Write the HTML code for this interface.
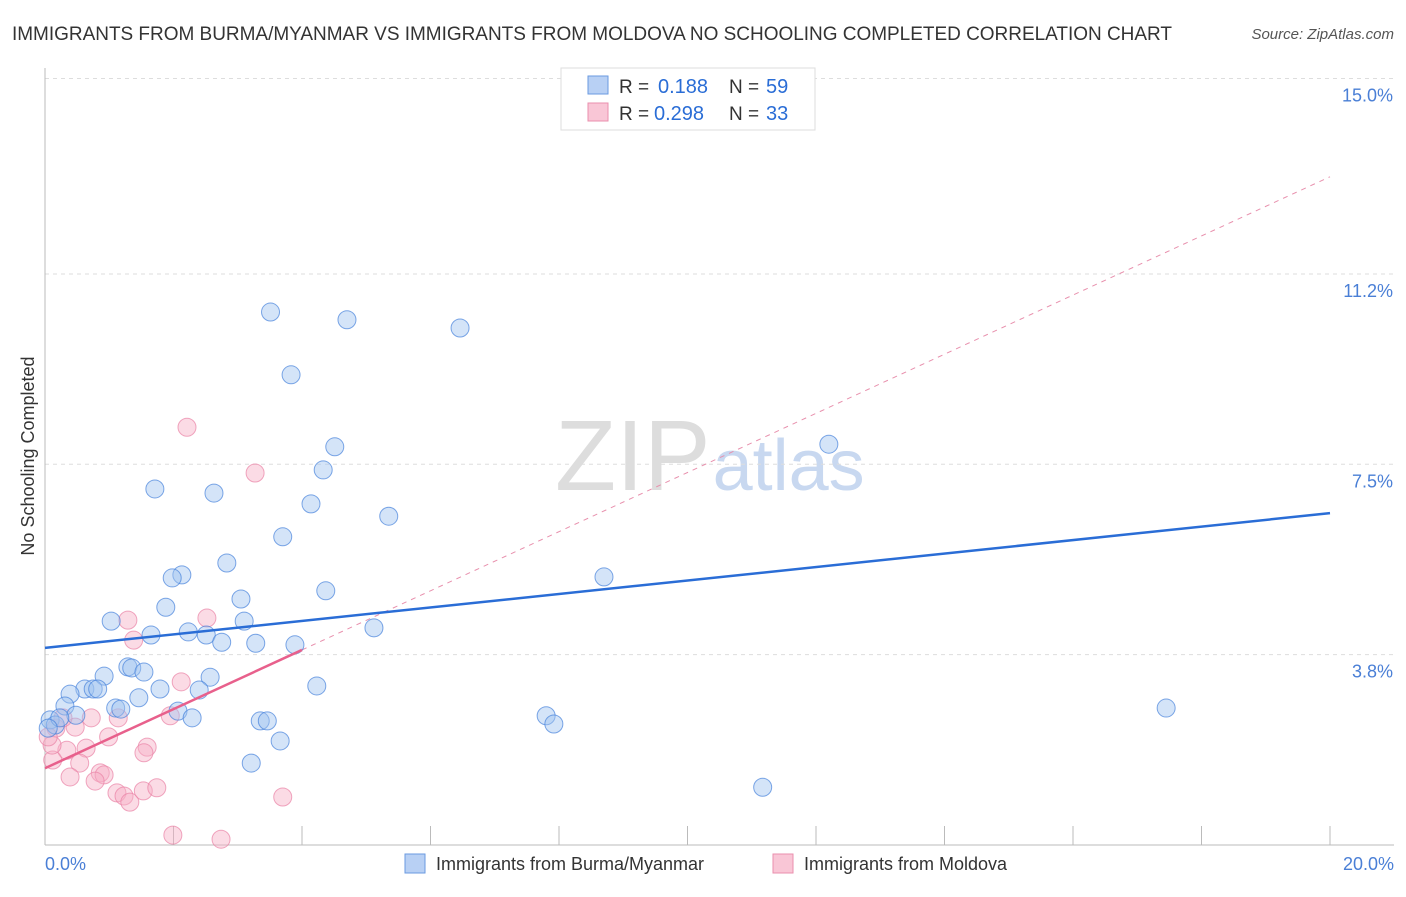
<!DOCTYPE html>
<html><head><meta charset="utf-8"><style>
body{margin:0;background:#fff;font-family:"Liberation Sans",sans-serif;}
svg text{font-family:"Liberation Sans",sans-serif;}
</style></head><body>
<svg width="1406" height="892" xmlns="http://www.w3.org/2000/svg">
<text x="12" y="40" font-size="19" fill="#333" textLength="1160">IMMIGRANTS FROM BURMA/MYANMAR VS IMMIGRANTS FROM MOLDOVA NO SCHOOLING COMPLETED CORRELATION CHART</text>
<text x="1394" y="39" font-size="15" fill="#555" font-style="italic" text-anchor="end">Source: ZipAtlas.com</text>
<text x="555" y="490" font-size="100" fill="#ddd" font-family="Liberation Serif">ZIP<tspan fill="#c8d8f0" font-family="Liberation Sans" font-size="72" dx="2">atlas</tspan></text>
<g id="grid"></g>
<line x1="45" y1="68" x2="45" y2="845" stroke="#bbb"/>
<line x1="45" y1="845" x2="1394" y2="845" stroke="#bbb"/>
<g id="ticks"></g>
<text x="45" y="870" font-size="18" fill="#4a7fd6">0.0%</text>
<text x="1394" y="870" font-size="18" fill="#4a7fd6" text-anchor="end">20.0%</text>
<text x="34" y="456" font-size="18" fill="#333" text-anchor="middle" transform="rotate(-90 34 456)">No Schooling Completed</text>
<g id="lines"></g>
<g id="pts"></g>
<g>
<rect x="561" y="68" width="254" height="62" fill="#fff" stroke="#ddd"/>
<rect x="588" y="76" width="20" height="18" fill="#b8d0f4" stroke="#6a9ae0"/>
<rect x="588" y="103" width="20" height="18" fill="#f9c6d6" stroke="#ea8fad"/>
<text x="619" y="93" font-size="19" fill="#333">R =</text>
<text x="658" y="93" font-size="20" fill="#2a6dd6">0.188</text>
<text x="729" y="93" font-size="19" fill="#333">N =</text>
<text x="766" y="93" font-size="20" fill="#2a6dd6">59</text>
<text x="619" y="120" font-size="19" fill="#333">R =</text>
<text x="654" y="120" font-size="20" fill="#2a6dd6">0.298</text>
<text x="729" y="120" font-size="19" fill="#333">N =</text>
<text x="766" y="120" font-size="20" fill="#2a6dd6">33</text>
</g>
<g>
<rect x="405" y="854" width="20" height="19" fill="#b8d0f4" stroke="#6a9ae0"/>
<text x="436" y="870" font-size="18" fill="#333">Immigrants from Burma/Myanmar</text>
<rect x="773" y="854" width="20" height="19" fill="#f9c6d6" stroke="#ea8fad"/>
<text x="804" y="870" font-size="18" fill="#333">Immigrants from Moldova</text>
</g>
</svg>
<script>
const yTicks=[3.8,7.5,11.2,15.0];
const yTickLabels=["3.8%","7.5%","11.2%","15.0%"];
const xTicks=[2,4,6,8,10,12,14,16,18,20];
const burmaX=[3.51,4.70,6.46,3.83,4.51,12.20,4.33,1.71,2.63,4.14,5.35,3.70,2.83,2.13,1.98,8.70,4.37,3.05,1.88,3.10,1.03,5.12,1.65,2.23,2.51,2.75,3.28,3.89,1.29,1.35,1.54,0.92,2.57,0.62,0.75,0.82,0.39,1.79,4.23,2.40,1.46,0.31,1.10,1.18,2.07,0.48,2.29,7.80,7.92,17.45,3.35,3.46,3.66,3.21,11.17,0.08,0.16,0.23,0.05];
const burmaY=[10.46,10.31,10.15,9.24,7.84,7.89,7.39,7.02,6.94,6.73,6.49,6.09,5.58,5.35,5.29,5.31,5.04,4.88,4.72,4.45,4.45,4.32,4.18,4.24,4.18,4.04,4.02,3.99,3.56,3.54,3.46,3.38,3.36,3.13,3.13,3.13,3.03,3.13,3.19,3.11,2.96,2.80,2.76,2.74,2.70,2.62,2.57,2.61,2.45,2.76,2.51,2.51,2.12,1.69,1.22,2.53,2.43,2.57,2.37];
const moldX=[2.21,3.27,2.52,1.29,1.38,2.12,0.17,0.47,0.72,0.28,1.95,1.14,0.99,0.34,0.64,1.59,1.54,0.12,0.54,0.86,0.92,0.39,0.78,1.12,1.23,1.32,1.53,1.74,3.70,1.99,2.74,0.11,0.05];
const moldY=[8.22,7.33,4.51,4.47,4.08,3.27,2.37,2.39,2.57,2.57,2.61,2.57,2.20,1.94,1.98,2.00,1.89,1.75,1.69,1.50,1.46,1.42,1.34,1.11,1.05,0.93,1.15,1.21,1.03,0.29,0.21,2.04,2.20];
const burmaFit=[3.93,0.131];
const moldFit=[1.59,0.575];
const X=v=>45+v/20*1285, Y=v=>850-v*51.43;
const NS="http://www.w3.org/2000/svg";
function mk(tag,attrs,parent){const e=document.createElementNS(NS,tag);for(const k in attrs)e.setAttribute(k,attrs[k]);document.getElementById(parent).appendChild(e);return e;}
yTicks.forEach((t,i)=>{
 const l=mk('line',{x1:45,x2:1394,y1:Y(t),y2:Y(t),stroke:'#ddd','stroke-dasharray':'4,4'},'grid');
 
 
 const tx=mk('text',{x:1393,y:Y(t)+23,'font-size':18,fill:'#4a7fd6','text-anchor':'end'},'grid');
 tx.textContent=yTickLabels[i];
 
 
});
xTicks.forEach(t=>{
 const l=mk('line',{x1:X(t),x2:X(t),y1:826,y2:845,stroke:'#bbb'},'ticks');
 
 
});
let d=mk('line',{x1:X(4),y1:Y(moldFit[0]+moldFit[1]*4),x2:X(20),y2:Y(moldFit[0]+moldFit[1]*20),stroke:'#e890ad','stroke-dasharray':'5,5','stroke-width':1},'lines');


moldX.forEach((x,i)=>{const c=mk('circle',{cx:X(x),cy:Y(moldY[i]),r:9,fill:'rgba(247,176,198,0.45)',stroke:'rgba(234,130,165,0.7)'},'pts');
 
 });
burmaX.forEach((x,i)=>{const c=mk('circle',{cx:X(x),cy:Y(burmaY[i]),r:9,fill:'rgba(160,195,240,0.45)',stroke:'rgba(70,130,220,0.7)'},'pts');
 
 });
let b=mk('line',{x1:X(0),y1:Y(burmaFit[0]),x2:X(20),y2:Y(burmaFit[0]+burmaFit[1]*20),stroke:'#2a6dd6','stroke-width':2.5},'pts');


let p=mk('line',{x1:X(0),y1:Y(moldFit[0]),x2:X(4),y2:Y(moldFit[0]+moldFit[1]*4),stroke:'#e8608c','stroke-width':2.5},'pts');


</script>
</body></html>
